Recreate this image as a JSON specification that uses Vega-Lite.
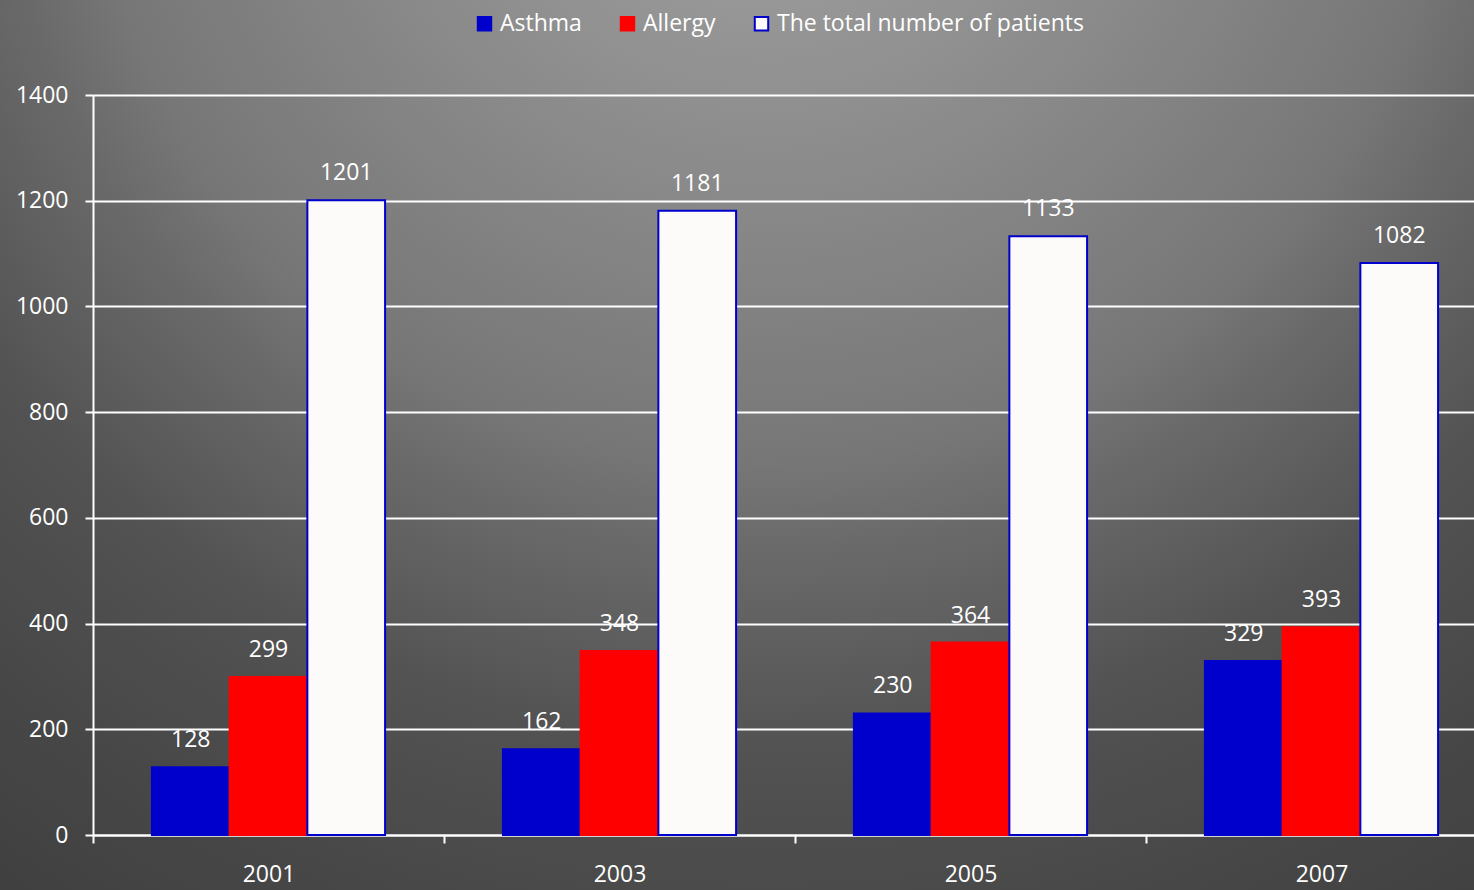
{
  "$schema": "https://vega.github.io/schema/vega-lite/v6.json",
  "width": 1474,
  "height": 890,
  "autosize": {"type": "none"},
  "padding": 0,
  "background": "#555555",
  "view": {
    "stroke": null,
    "fill": {
      "gradient": "radial",
      "x1": 0.52, "y1": 0.05, "r1": 0,
      "x2": 0.52, "y2": 0.05, "r2": 1.1,
      "stops": [
        {"offset": 0, "color": "#a8a8a8"},
        {"offset": 0.073, "color": "#9e9e9e"},
        {"offset": 0.418, "color": "#777777"},
        {"offset": 0.473, "color": "#6a6a6a"},
        {"offset": 0.6, "color": "#525252"},
        {"offset": 0.727, "color": "#474747"},
        {"offset": 0.855, "color": "#3e3e3e"},
        {"offset": 0.955, "color": "#2c2c2c"},
        {"offset": 1, "color": "#262626"}
      ]
    }
  },
  "data": {
    "values": [
      {"year": "2001", "series": "Asthma", "value": 128},
      {"year": "2001", "series": "Allergy", "value": 299},
      {"year": "2001", "series": "The total number of patients", "value": 1201},
      {"year": "2003", "series": "Asthma", "value": 162},
      {"year": "2003", "series": "Allergy", "value": 348},
      {"year": "2003", "series": "The total number of patients", "value": 1181},
      {"year": "2005", "series": "Asthma", "value": 230},
      {"year": "2005", "series": "Allergy", "value": 364},
      {"year": "2005", "series": "The total number of patients", "value": 1133},
      {"year": "2007", "series": "Asthma", "value": 329},
      {"year": "2007", "series": "Allergy", "value": 393},
      {"year": "2007", "series": "The total number of patients", "value": 1082}
    ]
  },
  "encoding": {
    "x": {
      "field": "year",
      "type": "nominal",
      "scale": {"range": [93, 1497], "paddingInner": 0, "paddingOuter": 0},
      "axis": {
        "title": null,
        "orient": "bottom",
        "offset": -55,
        "labelAngle": 0,
        "tickBand": "extent",
        "tickSize": 8,
        "tickWidth": 2,
        "tickColor": "#ffffff",
        "domainColor": "#ffffff",
        "domainWidth": 2,
        "labelPadding": 20,
        "labelColor": "#ffffff",
        "labelFont": "Open Sans",
        "labelFontSize": 23,
        "labelBaseline": "top",
        "grid": false
      }
    },
    "xOffset": {
      "field": "series",
      "type": "nominal",
      "sort": ["Asthma", "Allergy", "The total number of patients"],
      "scale": {"paddingInner": 0, "paddingOuter": 0.758}
    },
    "y": {
      "field": "value",
      "type": "quantitative",
      "scale": {"domain": [0, 1400], "range": [835, 95], "nice": false, "zero": true},
      "axis": {
        "title": null,
        "orient": "left",
        "offset": -93,
        "format": "d",
        "values": [0, 200, 400, 600, 800, 1000, 1200, 1400],
        "tickSize": 8,
        "tickWidth": 2,
        "tickColor": "#ffffff",
        "domainColor": "#ffffff",
        "domainWidth": 2,
        "grid": true,
        "gridColor": "#ffffff",
        "gridWidth": 2,
        "gridOpacity": 1,
        "labelPadding": 17,
        "labelColor": "#ffffff",
        "labelFont": "Open Sans",
        "labelFontSize": 23
      }
    }
  },
  "layer": [
    {
      "mark": {"type": "bar", "strokeWidth": 2},
      "encoding": {
        "fill": {
          "field": "series",
          "type": "nominal",
          "scale": {
            "domain": ["Asthma", "Allergy", "The total number of patients"],
            "range": ["#0000cc", "#ff0000", "#fcfbf9"]
          },
          "legend": {
            "title": null,
            "orient": "none",
            "direction": "horizontal",
            "legendX": 473,
            "legendY": 12,
            "symbolType": "square",
            "symbolSize": 180,
            "symbolStrokeWidth": 2,
            "symbolOpacity": 1,
            "labelColor": "#ffffff",
            "labelFont": "Open Sans",
            "labelFontSize": 23,
            "labelOffset": 4,
            "columnPadding": 34,
            "labelLimit": 600,
            "padding": 0
          }
        },
        "stroke": {
          "field": "series",
          "type": "nominal",
          "scale": {
            "domain": ["Asthma", "Allergy", "The total number of patients"],
            "range": ["#0000cc", "#ff0000", "#0000cc"]
          },
          "legend": null
        }
      }
    },
    {
      "mark": {
        "type": "text",
        "baseline": "middle",
        "align": "center",
        "dy": -27,
        "color": "#ffffff",
        "font": "Open Sans",
        "fontSize": 23
      },
      "encoding": {
        "text": {"field": "value", "type": "quantitative"}
      }
    }
  ]
}
